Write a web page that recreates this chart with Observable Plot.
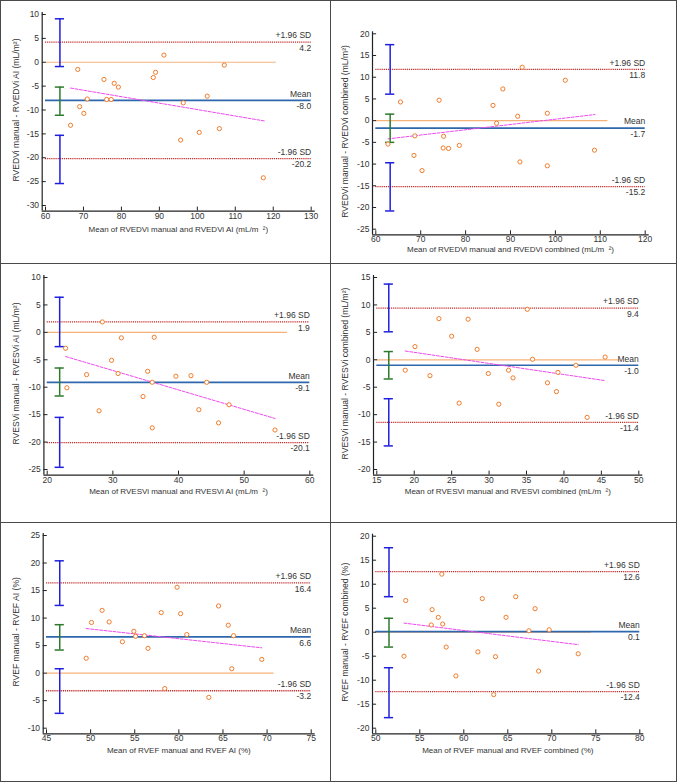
<!DOCTYPE html>
<html><head><meta charset="utf-8">
<script src="https://cdn.jsdelivr.net/npm/d3@7"></script>
<script src="https://cdn.jsdelivr.net/npm/@observablehq/plot@0.6"></script>
<style>
body{margin:0;background:#fff;}
#wrap{position:relative;width:677px;height:782px;overflow:hidden;}
.panel{position:absolute;}
.panel svg{display:block;}
.bd{position:absolute;background:#4a4a4a;}
</style></head><body><div id="wrap"></div>
<script>
// ---------- data ----------
const yTitles = [
  "RVEDVi manual - RVEDVi AI (mL/m²)",
  "RVEDVi manual - RVEDVi combined (mL/m²)",
  "RVESVi manual - RVESVi AI (mL/m²)",
  "RVESVi manual - RVESVi combined (mL/m²)",
  "RVEF manual - RVEF AI (%)",
  "RVEF manual - RVEF combined (%)"
];
const xTitles = [
  "Mean of RVEDVi manual and RVEDVi AI (mL/m  ²)",
  "Mean of RVEDVi manual and RVEDVi combined (mL/m  ²)",
  "Mean of RVESVi manual and RVESVi AI (mL/m  ²)",
  "Mean of RVESVi manual and RVESVi combined (mL/m  ²)",
  "Mean of RVEF manual and RVEF AI (%)",
  "Mean of RVEF manual and RVEF combined (%)"
];
const xTicks = [
  [60, 70, 80, 90, 100, 110, 120, 130],
  [60, 70, 80, 90, 100, 110, 120],
  [20, 30, 40, 50, 60],
  [15, 20, 25, 30, 35, 40, 45, 50],
  [45, 50, 55, 60, 65, 70, 75],
  [50, 55, 60, 65, 70, 75, 80]
];
const yTicks = [
  [10, 5, 0, -5, -10, -15, -20, -25, -30],
  [20, 15, 10, 5, 0, -5, -10, -15, -20, -25],
  [10, 5, 0, -5, -10, -15, -20, -25],
  [15, 10, 5, 0, -5, -10, -15, -20],
  [25, 20, 15, 10, 5, 0, -5, -10],
  [20, 15, 10, 5, 0, -5, -10, -15, -20]
];

const edviAiMean = [66.6, 68.5, 69.0, 70.1, 71.0, 75.4, 76.1, 77.3, 78.1, 79.2, 88.4, 89.0, 91.2, 95.6, 96.3, 100.5, 102.6, 105.8, 107.1, 117.4];
const edviAiDiff = [-13.2, -1.5, -9.3, -10.7, -7.7, -3.6, -7.8, -7.8, -4.4, -5.2, -3.2, -2.1, 1.5, -16.3, -8.5, -14.7, -7.1, -13.9, -0.6, -24.2];
const edviCombMean = [62.7, 65.5, 68.5, 68.7, 70.3, 74.1, 75.0, 75.1, 76.2, 78.6, 86.1, 86.9, 88.3, 91.6, 92.1, 92.6, 98.2, 98.2, 102.2, 108.7];
const edviCombDiff = [-5.4, 4.3, -8.0, -3.5, -11.5, 4.7, -6.3, -3.6, -6.4, -5.7, 3.5, -0.6, 7.3, 1.0, -9.5, 12.3, 1.7, -10.4, 9.3, -6.8];
const esviAiMean = [22.8, 23.0, 26.0, 27.9, 28.4, 29.8, 30.8, 31.3, 34.6, 35.3, 36.0, 36.0, 36.3, 39.6, 41.9, 43.1, 44.3, 46.1, 47.7, 54.7];
const esviAiDiff = [-2.9, -10.1, -7.7, -14.3, 1.9, -5.1, -7.5, -1.0, -11.7, -7.1, -17.4, -9.1, -0.9, -8.0, -7.9, -14.1, -9.1, -16.5, -13.2, -17.8];
const esviCombMean = [18.8, 20.1, 22.1, 23.3, 25.0, 26.0, 27.2, 28.4, 29.9, 31.3, 32.6, 33.2, 35.1, 35.8, 37.8, 39.0, 39.2, 41.6, 43.1, 45.5];
const esviCombDiff = [-1.9, 2.4, -2.9, 7.5, 4.3, -7.9, 7.4, 1.9, -2.5, -8.1, -1.9, -3.3, 9.2, 0.1, -4.2, -5.8, -2.3, -1.0, -10.5, 0.5];
const efAiMean = [49.5, 50.1, 51.3, 52.1, 53.6, 54.9, 55.1, 56.1, 56.5, 58.0, 58.4, 59.8, 60.2, 60.9, 63.4, 64.5, 65.6, 66.0, 66.2, 69.4];
const efAiDiff = [2.7, 9.2, 11.4, 9.3, 5.7, 7.6, 6.7, 6.8, 4.5, 11.0, -2.8, 15.6, 10.8, 7.0, -4.4, 12.2, 8.7, 0.8, 6.8, 2.5];
const efCombMean = [53.2, 53.4, 56.3, 56.4, 57.1, 57.5, 57.6, 58.0, 59.1, 61.6, 62.1, 63.4, 63.6, 64.8, 65.9, 67.4, 68.1, 68.5, 69.7, 73.0];
const efCombDiff = [-5.0, 6.6, 1.5, 4.7, 3.1, 12.1, 1.7, -3.1, -9.1, -4.1, 7.0, -13.0, -5.1, 3.1, 7.4, 0.3, 4.9, -8.1, 0.5, -4.5];

const meansList = [edviAiMean, edviCombMean, esviAiMean, esviCombMean, efAiMean, efCombMean];
const diffsList = [edviAiDiff, edviCombDiff, esviAiDiff, esviCombDiff, efAiDiff, efCombDiff];

const upperLimit = [4.2, 11.8, 1.9, 9.4, 16.4, 12.6];
const meanBias = [-8.0, -1.7, -9.1, -1.0, 6.6, 0.1];
const lowerLimit = [-20.2, -15.2, -20.1, -11.4, -3.2, -12.4];
const upperCI = [[9.1, -0.9], [17.5, 6.1], [6.4, -2.6], [13.8, 5.1], [20.4, 12.3], [17.6, 7.4]];
const biasCI = [[-5.2, -11.1], [1.5, -5.0], [-6.5, -11.6], [1.5, -3.5], [8.8, 4.2], [2.9, -3.1]];
const lowerCI = [[-15.3, -25.4], [-9.7, -20.8], [-15.5, -24.6], [-7.1, -15.7], [0.8, -7.3], [-7.4, -17.8]];
const ciPos = [63.8, 63.2, 21.9, 16.6, 46.5, 51.5];
const regStart = [[66.6, -5.4], [62.7, -4.2], [22.8, -4.4], [18.8, 1.6], [49.5, 8.1], [53.2, 1.9]];
const regEnd = [[117.7, -12.3], [108.8, 1.4], [54.7, -15.7], [45.5, -3.8], [69.4, 4.6], [73.0, -2.6]];
const zeroEnd = [120.8, 111.7, 56.6, 47.5, 70.8, 74.5];
const upperText = "+1.96 SD", meanText = "Mean", lowerText = "-1.96 SD";

// ---------- layout ----------
const boxes = [
  {left: 1, top: 1, w: 329, h: 262, mL: 44, mR: 19.3, mT: 13, mB: 58, xt: 24},
  {left: 330, top: 1, w: 346, h: 262, mL: 45.3, mR: 31.3, mT: 32.3, mB: 34.3, xt: 20.5},
  {left: 1, top: 263, w: 329, h: 259, mL: 45.7, mR: 20.7, mT: 14, mB: 53, xt: 21.7},
  {left: 330, top: 263, w: 346, h: 259, mL: 46.3, mR: 37.7, mT: 14, mB: 53, xt: 21.7},
  {left: 1, top: 522, w: 329, h: 259, mL: 45, mR: 19.3, mT: 13, mB: 53.3, xt: 22.3},
  {left: 330, top: 522, w: 346, h: 259, mL: 45.3, mR: 36.7, mT: 13.7, mB: 53.3, xt: 22.3}
];

const C = {
  pt: "#f07d2c", zero: "#f7b27a", sd: "#c42a2a", mean: "#2f67ad",
  reg: "#ee4aee", ciB: "#1f1fe0", ciG: "#2d7a2d", txt: "#333", axis: "#222"
};
const fmt = v => v.toFixed(1);

function makePanel(i) {
  const B = boxes[i];
  const xd = [d3.min(xTicks[i]), d3.max(xTicks[i])];
  const yd = [d3.min(yTicks[i]), d3.max(yTicks[i])];
  const pts = meansList[i].map((x, j) => ({x, y: diffsList[i][j]}));
  const reg = [{x: regStart[i][0], y: regStart[i][1]}, {x: regEnd[i][0], y: regEnd[i][1]}];
  const cis = [
    {x: ciPos[i], y1: upperCI[i][0], y2: upperCI[i][1], c: C.ciB},
    {x: ciPos[i], y1: biasCI[i][0], y2: biasCI[i][1], c: C.ciG},
    {x: ciPos[i], y1: lowerCI[i][0], y2: lowerCI[i][1], c: C.ciB}
  ];
  const caps = cis.flatMap(d => [{x: d.x, y: d.y1, c: d.c}, {x: d.x, y: d.y2, c: d.c}]);
  const refs = [
    {y: upperLimit[i], name: upperText},
    {y: meanBias[i], name: meanText},
    {y: lowerLimit[i], name: lowerText}
  ];
  const xMax = xd[1];
  return Plot.plot({
    width: B.w, height: B.h,
    marginLeft: B.mL, marginRight: B.mR, marginTop: B.mT, marginBottom: B.mB,
    x: {domain: xd}, y: {domain: yd},
    style: {fontFamily: "'Liberation Sans', Arial, sans-serif", fontSize: "8.5px", color: C.txt, background: "transparent", overflow: "visible"},
    marks: [
      Plot.ruleY([0], {x1: xd[0], x2: zeroEnd[i], stroke: C.zero, strokeWidth: 1.2}),
      Plot.ruleY([upperLimit[i], lowerLimit[i]], {stroke: C.sd, strokeWidth: 1.3, strokeDasharray: "1.2,0.9"}),
      Plot.ruleY([meanBias[i]], {stroke: C.mean, strokeWidth: 1.7}),
      Plot.line(reg, {x: "x", y: "y", stroke: C.reg, strokeWidth: 1, strokeDasharray: "3,1.5"}),
      Plot.ruleX(cis, {x: "x", y1: "y1", y2: "y2", stroke: "c", strokeWidth: 1.5}),
      Plot.ruleY(caps, {x1: "x", x2: "x", y: "y", stroke: "c", strokeWidth: 1.5, insetLeft: -4.6, insetRight: -4.6}),
      Plot.dot(pts, {x: "x", y: "y", r: 2.1, stroke: C.pt, strokeWidth: 1, fill: "white"}),
      Plot.text(refs, {x: () => xMax, y: "y", text: "name", textAnchor: "end", dy: -6.5, fill: C.txt}),
      Plot.text(refs, {x: () => xMax, y: "y", text: d => fmt(d.y), textAnchor: "end", dy: 6, fill: C.txt}),
      Plot.ruleX([xd[0]], {dx: -3.3, insetTop: -2, insetBottom: -5.6, stroke: C.axis, strokeWidth: 1.2}),
      Plot.ruleY([yd[0]], {dy: 5.6, insetLeft: -3.3, insetRight: -4, stroke: C.axis, strokeWidth: 1.2}),
      Plot.axisY({ticks: yTicks[i], tickFormat: d => String(d), tickSize: 4, dx: 0.8, tickPadding: 3.2, label: null, stroke: C.axis}),
      Plot.axisX({ticks: xTicks[i], tickFormat: d => String(d), tickSize: 4, dy: 1.6, tickPadding: 1.5, label: null, stroke: C.axis}),
      Plot.text([xTitles[i]], {frameAnchor: "bottom", lineAnchor: "middle", textAnchor: "middle", text: d => d, dy: B.xt, fill: C.txt, fontSize: 8}),
      Plot.text([yTitles[i]], {frameAnchor: "left", lineAnchor: "middle", textAnchor: "middle", text: d => d, rotate: -90, dx: 14.5 - B.mL, fill: C.txt, fontSize: 8.6})
    ]
  });
}

const wrap = document.getElementById("wrap");
boxes.forEach((B, i) => {
  const d = document.createElement("div");
  d.className = "panel";
  d.style.left = B.left + "px"; d.style.top = B.top + "px";
  d.style.width = B.w + "px"; d.style.height = B.h + "px";
  d.appendChild(makePanel(i));
  wrap.appendChild(d);
});
// frame lines
[[0, 0, 677, 1], [0, 781, 677, 1], [0, 0, 1, 782], [676, 0, 1, 782],
 [330, 0, 1, 782], [0, 263, 677, 1], [0, 522, 677, 1]].forEach(([l, t, w, h]) => {
  const b = document.createElement("div");
  b.className = "bd";
  Object.assign(b.style, {left: l + "px", top: t + "px", width: w + "px", height: h + "px"});
  wrap.appendChild(b);
});
</script></body></html>
